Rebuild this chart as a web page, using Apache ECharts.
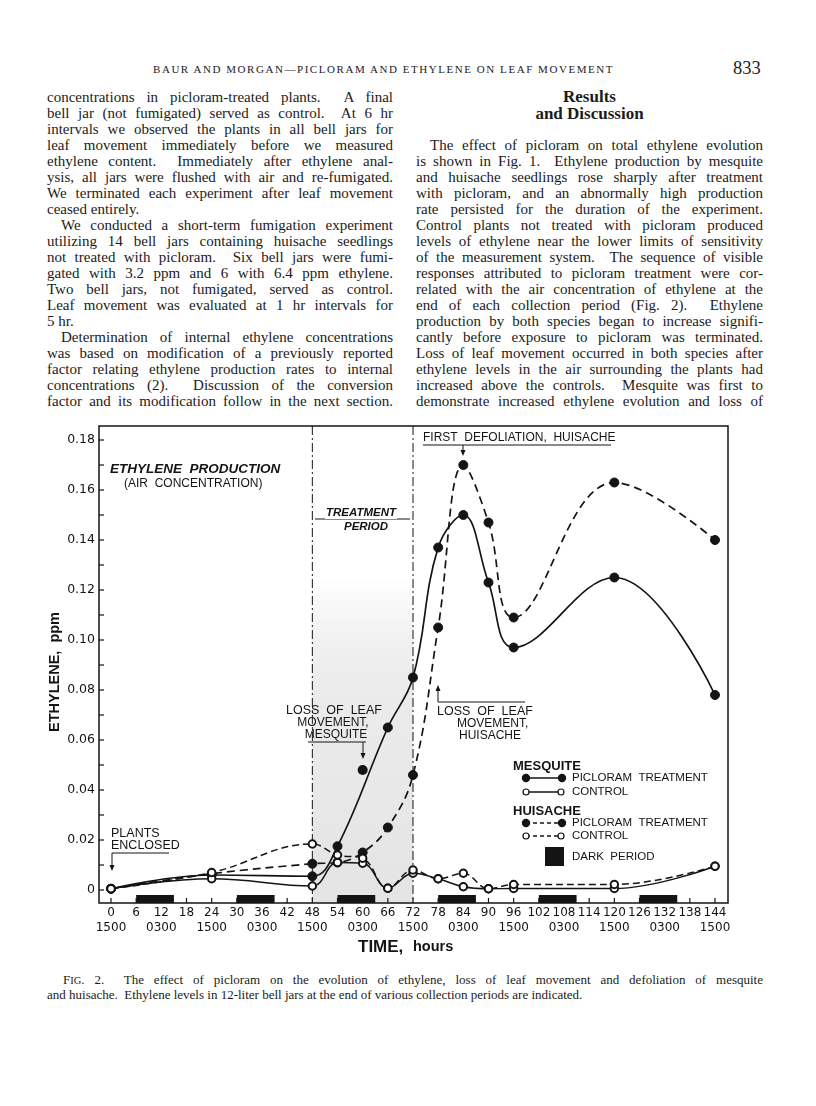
<!DOCTYPE html>
<html>
<head>
<meta charset="utf-8">
<script src="https://cdn.jsdelivr.net/npm/echarts@6/dist/echarts.min.js"></script>
<style>
  body { margin: 0; background: #fff; }
  #page { position: relative; width: 816px; height: 1106px; overflow: hidden;
          font-family: "Liberation Serif", "DejaVu Serif", serif; color: #1b1b1b; }
  .ln { position: absolute; height: 16px; line-height: 16px; font-size: 15px; white-space: nowrap; }
  .l { left: 47px; width: 346px; }
  .r { left: 416px; width: 347px; }
  .ind { text-indent: 14px; }
  #head { position: absolute; left: 153px; top: 62px; font-size: 11px; letter-spacing: 1.55px; line-height: 14px; }
  #pno { position: absolute; left: 733px; top: 58px; font-size: 18.5px; line-height: 20px; }
  .h2 { position: absolute; left: 416px; width: 347px; text-align: center; font-weight: bold; font-size: 17px; line-height: 18px; }
  .cap { font-size: 13px; line-height: 15px; height: 15px; }
  #chart { position: absolute; left: 0; top: 410px; width: 816px; height: 560px; }
</style>
</head>
<body>
<div id="page">
  <div id="head">BAUR AND MORGAN—PICLORAM AND ETHYLENE ON LEAF MOVEMENT</div>
  <div id="pno">833</div>

  <div class="ln l" style="top:89px">concentrations in picloram-treated plants.&nbsp; A final</div>
  <div class="ln l" style="top:105px">bell jar (not fumigated) served as control.&nbsp; At 6 hr</div>
  <div class="ln l" style="top:121px">intervals we observed the plants in all bell jars for</div>
  <div class="ln l" style="top:137px">leaf movement immediately before we measured</div>
  <div class="ln l" style="top:153px">ethylene content.&nbsp; Immediately after ethylene anal-</div>
  <div class="ln l" style="top:169px">ysis, all jars were flushed with air and re-fumigated.</div>
  <div class="ln l" style="top:185px">We terminated each experiment after leaf movement</div>
  <div class="ln l last" style="top:201px">ceased entirely.</div>
  <div class="ln l ind" style="top:217px">We conducted a short-term fumigation experiment</div>
  <div class="ln l" style="top:233px">utilizing 14 bell jars containing huisache seedlings</div>
  <div class="ln l" style="top:249px">not treated with picloram.&nbsp; Six bell jars were fumi-</div>
  <div class="ln l" style="top:265px">gated with 3.2 ppm and 6 with 6.4 ppm ethylene.</div>
  <div class="ln l" style="top:281px">Two bell jars, not fumigated, served as control.</div>
  <div class="ln l" style="top:297px">Leaf movement was evaluated at 1 hr intervals for</div>
  <div class="ln l last" style="top:313px">5 hr.</div>
  <div class="ln l ind" style="top:329px">Determination of internal ethylene concentrations</div>
  <div class="ln l" style="top:345px">was based on modification of a previously reported</div>
  <div class="ln l" style="top:361px">factor relating ethylene production rates to internal</div>
  <div class="ln l" style="top:377px">concentrations (2).&nbsp; Discussion of the conversion</div>
  <div class="ln l" style="top:393px">factor and its modification follow in the next section.</div>

  <div class="h2" style="top:88px">Results</div>
  <div class="h2" style="top:105px">and Discussion</div>
  <div class="ln r ind" style="top:137px">The effect of picloram on total ethylene evolution</div>
  <div class="ln r" style="top:153px">is shown in Fig. 1.&nbsp; Ethylene production by mesquite</div>
  <div class="ln r" style="top:169px">and huisache seedlings rose sharply after treatment</div>
  <div class="ln r" style="top:185px">with picloram, and an abnormally high production</div>
  <div class="ln r" style="top:201px">rate persisted for the duration of the experiment.</div>
  <div class="ln r" style="top:217px">Control plants not treated with picloram produced</div>
  <div class="ln r" style="top:233px">levels of ethylene near the lower limits of sensitivity</div>
  <div class="ln r" style="top:249px">of the measurement system.&nbsp; The sequence of visible</div>
  <div class="ln r" style="top:265px">responses attributed to picloram treatment were cor-</div>
  <div class="ln r" style="top:281px">related with the air concentration of ethylene at the</div>
  <div class="ln r" style="top:297px">end of each collection period (Fig. 2).&nbsp; Ethylene</div>
  <div class="ln r" style="top:313px">production by both species began to increase signifi-</div>
  <div class="ln r" style="top:329px">cantly before exposure to picloram was terminated.</div>
  <div class="ln r" style="top:345px">Loss of leaf movement occurred in both species after</div>
  <div class="ln r" style="top:361px">ethylene levels in the air surrounding the plants had</div>
  <div class="ln r" style="top:377px">increased above the controls.&nbsp; Mesquite was first to</div>
  <div class="ln r" style="top:393px">demonstrate increased ethylene evolution and loss of</div>

  <div id="chart"></div>

  <div class="ln cap" style="left:63px;width:700px;top:972px">F<span style="font-size:10.5px">IG</span>. 2.&nbsp; The effect of picloram on the evolution of ethylene, loss of leaf movement and defoliation of mesquite</div>
  <div class="ln cap last" style="left:47px;width:700px;top:987px">and huisache.&nbsp; Ethylene levels in 12-liter bell jars at the end of various collection periods are indicated.</div>
</div>

<script>
// sampling times (hours after enclosure)
var hours = [0, 24, 48, 54, 60, 66, 72, 78, 84, 90, 96, 120, 144];
// mesquite picloram curve skips the 60 hr reading, plotted apart
var hoursMesquitePic = [0, 24, 48, 54, 66, 72, 78, 84, 90, 96, 120, 144];
var mesquitePicloram = [0.0005, 0.006, 0.0055, 0.0175, 0.065, 0.085, 0.137, 0.150, 0.123, 0.097, 0.125, 0.078];
var mesquiteLossHour = [60];
var mesquiteLossValue = [0.048];
var huisachePicloram = [0.0005, 0.0065, 0.0105, 0.011, 0.015, 0.025, 0.046, 0.105, 0.170, 0.147, 0.109, 0.163, 0.140];
var mesquiteControl = [0.0005, 0.0045, 0.0016, 0.011, 0.0107, 0.0007, 0.0067, 0.0045, 0.0013, 0.0005, 0.0006, 0.0006, 0.0095];
var huisacheControl = [0.0005, 0.007, 0.0184, 0.014, 0.0127, 0.0007, 0.008, 0.0045, 0.0067, 0.0005, 0.0022, 0.0022, 0.0095];

var darkStart = [6, 30, 54, 78, 102, 126];
var darkEnd = [15, 39, 63, 87, 111, 135];
var treatment = [48, 72];

var xTicks = [0, 6, 12, 18, 24, 30, 36, 42, 48, 54, 60, 66, 72, 78, 84, 90, 96, 102, 108, 114, 120, 126, 132, 138, 144];
var yTicks = [0, 0.01, 0.02, 0.03, 0.04, 0.05, 0.06, 0.07, 0.08, 0.09, 0.10, 0.11, 0.12, 0.13, 0.14, 0.15, 0.16, 0.17, 0.18];
var clockHours = [0, 12, 24, 36, 48, 60, 72, 84, 96, 108, 120, 132, 144];
var clockTimes = ['1500', '0300', '1500', '0300', '1500', '0300', '1500', '0300', '1500', '0300', '1500', '0300', '1500'];

// justify the page text line by line
document.querySelectorAll('.ln').forEach(function (el) {
  if (el.classList.contains('last')) return;
  var sp = document.createElement('span');
  sp.innerHTML = el.innerHTML;
  el.innerHTML = '';
  el.appendChild(sp);
  var indent = parseFloat(getComputedStyle(el).textIndent) || 0;
  var target = el.clientWidth - indent;
  var natural = sp.getBoundingClientRect().width;
  var gaps = (sp.textContent.match(/[ \u00a0]/g) || []).length;
  if (gaps) el.style.wordSpacing = ((target - natural) / gaps) + 'px';
});

function pairs(xs, ys) {
  return xs.map(function (x, i) { return [x, ys[i]]; });
}

var INK = '#141414';
var SANS = '"Liberation Sans", Arial, sans-serif';

function txt(x, y, s, font, align) {
  return { type: 'text', x: x, y: y, z: 10,
    style: { text: s, fill: INK, font: font, align: align || 'left', verticalAlign: 'middle' } };
}
function seg(x1, y1, x2, y2, w, dash) {
  return { type: 'line', z: 10, shape: { x1: x1, y1: y1, x2: x2, y2: y2 },
    style: { stroke: INK, lineWidth: w || 1.2, lineDash: dash || null } };
}
function arrowDown(x, y) {
  return { type: 'polygon', z: 10, shape: { points: [[x - 2.5, y - 6], [x + 2.5, y - 6], [x, y]] }, style: { fill: INK } };
}
function arrowUp(x, y) {
  return { type: 'polygon', z: 10, shape: { points: [[x - 2.5, y + 6], [x + 2.5, y + 6], [x, y]] }, style: { fill: INK } };
}
function dot(cx, cy, open) {
  return { type: 'circle', z: 11, shape: { cx: cx, cy: cy, r: open ? 3 : 3.6 },
    style: { fill: open ? '#fff' : INK, stroke: INK, lineWidth: 1.2 } };
}

var chart = echarts.init(document.getElementById('chart'));

var lineBase = {
  type: 'line', smooth: 0.4, z: 3,
  symbol: 'circle', symbolSize: 9,
  itemStyle: { color: INK, borderColor: INK, opacity: 1 },
  emphasis: { disabled: true }
};
var tickFont = { color: INK, fontFamily: '"DejaVu Sans", sans-serif', fontSize: 12 };

var option = {
  animation: false,
  grid: { left: 111, right: 101, top: 30, bottom: 80 },
  xAxis: [{
    type: 'value', min: 0, max: 144, interval: 6, offset: 13,
    axisLine: { show: false }, axisTick: { show: false }, splitLine: { show: false },
    axisLabel: Object.assign({ margin: 4 }, tickFont)
  }, {
    // clock time row under the hour labels
    type: 'value', position: 'bottom', min: 0, max: 144, interval: 12, offset: 28,
    axisLine: { show: false }, axisTick: { show: false }, splitLine: { show: false },
    axisLabel: Object.assign({ margin: 4, formatter: function (v) {
      var i = clockHours.indexOf(v);
      return i >= 0 ? clockTimes[i] : '';
    } }, tickFont)
  }],
  yAxis: {
    type: 'value', min: 0, max: 0.18, interval: 0.02, offset: 12,
    axisLine: { show: false }, axisTick: { show: false }, splitLine: { show: false },
    axisLabel: Object.assign({ margin: 4, formatter: function (v) {
      return v === 0 ? '0' : v.toFixed(2);
    } }, tickFont, { fontSize: 12.5 })
  },
  graphic: [
    // plot frame
    { type: 'rect', z: 9, shape: { x: 99, y: 16, width: 629, height: 477 },
      style: { fill: 'none', stroke: INK, lineWidth: 1.5 } },
    // axis titles
    { type: 'text', x: 55, y: 262, rotation: Math.PI / 2, z: 10,
      style: { text: 'ETHYLENE,  ppm', fill: INK, font: 'bold 14.5px ' + SANS, align: 'center', verticalAlign: 'middle' } },
    txt(358, 537, 'TIME,', 'bold 17px ' + SANS),
    txt(413, 537, 'hours', 'bold 14.5px ' + SANS),
    // panel title
    txt(110, 59, 'ETHYLENE  PRODUCTION', 'italic bold 13.5px ' + SANS),
    txt(124, 74, '(AIR  CONCENTRATION)', '12px ' + SANS),
    // treatment period
    seg(315, 109, 410, 109, 1.2),
    { type: 'text', x: 361, y: 103, z: 11,
      style: { text: 'TREATMENT', fill: INK, font: 'italic bold 11.5px ' + SANS, align: 'center', verticalAlign: 'middle',
               backgroundColor: '#fff', padding: [0, 1] } },
    txt(366, 117, 'PERIOD', 'italic bold 11.5px ' + SANS, 'center'),
    // first defoliation
    txt(423, 28, 'FIRST  DEFOLIATION,  HUISACHE', '12px ' + SANS),
    seg(423, 35, 611, 35, 1),
    seg(463, 35, 463, 41, 1),
    arrowDown(463, 46),
    // loss of leaf movement, mesquite
    txt(334, 301, 'LOSS  OF  LEAF', '12.5px ' + SANS, 'center'),
    txt(333, 313, 'MOVEMENT,', '12px ' + SANS, 'center'),
    txt(336, 325, 'MESQUITE', '12px ' + SANS, 'center'),
    seg(308, 332, 366, 332, 1),
    seg(363, 332, 363, 343, 1),
    arrowDown(363, 349),
    // loss of leaf movement, huisache
    arrowUp(438, 275),
    seg(438, 280, 438, 292, 1),
    seg(438, 292, 525, 292, 1),
    txt(437, 302, 'LOSS  OF  LEAF', '12.5px ' + SANS),
    txt(457, 314, 'MOVEMENT,', '12px ' + SANS),
    txt(459, 326, 'HUISACHE', '12px ' + SANS),
    // plants enclosed
    txt(111, 424, 'PLANTS', '12.5px ' + SANS),
    txt(111, 436, 'ENCLOSED', '12.5px ' + SANS),
    seg(112, 443, 169, 443, 1),
    seg(112, 443, 112, 455, 1),
    arrowDown(112, 461),
    // key
    txt(513, 356, 'MESQUITE', 'bold 13px ' + SANS),
    seg(526, 368, 562, 368, 1.4), dot(526, 368), dot(562, 368),
    txt(572, 368, 'PICLORAM  TREATMENT', '11.5px ' + SANS),
    seg(526, 382, 561, 382, 1.4), dot(526, 382, true), dot(561, 382, true),
    txt(572, 382, 'CONTROL', '11.5px ' + SANS),
    txt(513, 401, 'HUISACHE', 'bold 13px ' + SANS),
    seg(526, 413, 562, 413, 1.4, [4, 3]), dot(526, 413), dot(562, 413),
    txt(572, 413, 'PICLORAM  TREATMENT', '11.5px ' + SANS),
    seg(526, 426, 561, 426, 1.4, [4, 3]), dot(526, 426, true), dot(561, 426, true),
    txt(572, 426, 'CONTROL', '11.5px ' + SANS),
    { type: 'rect', z: 10, shape: { x: 545, y: 437, width: 19, height: 19 }, style: { fill: INK } },
    txt(572, 447, 'DARK  PERIOD', '11.5px ' + SANS)
  ],
  series: [
    {
      name: 'treatment', type: 'custom', z: 0, clip: false, silent: true,
      encode: { x: [0, 1] },
      data: [treatment],
      renderItem: function (params, api) {
        var x0 = api.coord([api.value(0), 0])[0];
        var x1 = api.coord([api.value(1), 0])[0];
        var yb = api.coord([0, 0])[1] + 13;
        var yt = api.coord([0, 0.18])[1] - 14;
        var ys = api.coord([0, 0.125])[1];
        return { type: 'group', children: [
          { type: 'rect', shape: { x: x0, y: ys, width: x1 - x0, height: yb - ys },
            style: { fill: new echarts.graphic.LinearGradient(0, 0, 0, 1, [
              { offset: 0, color: 'rgba(228,228,228,0)' },
              { offset: 0.3, color: '#ececec' },
              { offset: 1, color: '#e4e4e4' }]) } },
          { type: 'line', shape: { x1: x0, y1: yt, x2: x0, y2: yb }, style: { stroke: INK, lineWidth: 1, lineDash: [9, 3, 2, 3] } },
          { type: 'line', shape: { x1: x1, y1: yt, x2: x1, y2: yb }, style: { stroke: INK, lineWidth: 1, lineDash: [9, 3, 2, 3] } }
        ] };
      }
    },
    {
      name: 'dark', type: 'custom', z: 4, clip: false, silent: true,
      encode: { x: [0, 1] },
      data: pairs(darkStart, darkEnd),
      renderItem: function (params, api) {
        var a = api.coord([api.value(0), 0]);
        var b = api.coord([api.value(1), 0]);
        return { type: 'rect', shape: { x: a[0], y: a[1] + 5, width: b[0] - a[0], height: 8 }, style: { fill: INK } };
      }
    },
    {
      // inward ticks on the bottom frame line
      name: 'xticks', type: 'custom', z: 9, clip: false, silent: true,
      encode: { x: 0 },
      data: xTicks.map(function (h) { return [h]; }),
      renderItem: function (params, api) {
        var p = api.coord([api.value(0), 0]);
        return { type: 'line', shape: { x1: p[0], y1: p[1] + 13, x2: p[0], y2: p[1] + 8 }, style: { stroke: INK, lineWidth: 1.2 } };
      }
    },
    {
      // inward ticks on the left frame line
      name: 'yticks', type: 'custom', z: 9, clip: false, silent: true,
      encode: { x: 0, y: 1 },
      data: yTicks.map(function (v) { return [0, v]; }),
      renderItem: function (params, api) {
        var p = api.coord([0, api.value(1)]);
        return { type: 'line', shape: { x1: p[0] - 12, y1: p[1], x2: p[0] - 7, y2: p[1] }, style: { stroke: INK, lineWidth: 1.2 } };
      }
    },
    Object.assign({}, lineBase, {
      name: 'Mesquite picloram', data: pairs(hoursMesquitePic, mesquitePicloram),
      lineStyle: { color: INK, width: 1.7 }
    }),
    {
      name: 'Mesquite loss point', type: 'scatter', z: 5, symbolSize: 10,
      itemStyle: { color: INK, opacity: 1 }, data: pairs(mesquiteLossHour, mesquiteLossValue)
    },
    Object.assign({}, lineBase, {
      name: 'Huisache picloram', data: pairs(hours, huisachePicloram),
      lineStyle: { color: INK, width: 1.7, type: [8, 5] }
    }),
    Object.assign({}, lineBase, {
      name: 'Mesquite control', data: pairs(hours, mesquiteControl),
      symbol: 'emptyCircle', symbolSize: 7.5,
      itemStyle: { color: INK, borderColor: INK, borderWidth: 1.2 },
      lineStyle: { color: INK, width: 1.5 }
    }),
    Object.assign({}, lineBase, {
      name: 'Huisache control', data: pairs(hours, huisacheControl),
      symbol: 'emptyCircle', symbolSize: 7.5,
      itemStyle: { color: INK, borderColor: INK, borderWidth: 1.2 },
      lineStyle: { color: INK, width: 1.5, type: [7, 4] }
    })
  ]
};

chart.setOption(option);
</script>
</body>
</html>
